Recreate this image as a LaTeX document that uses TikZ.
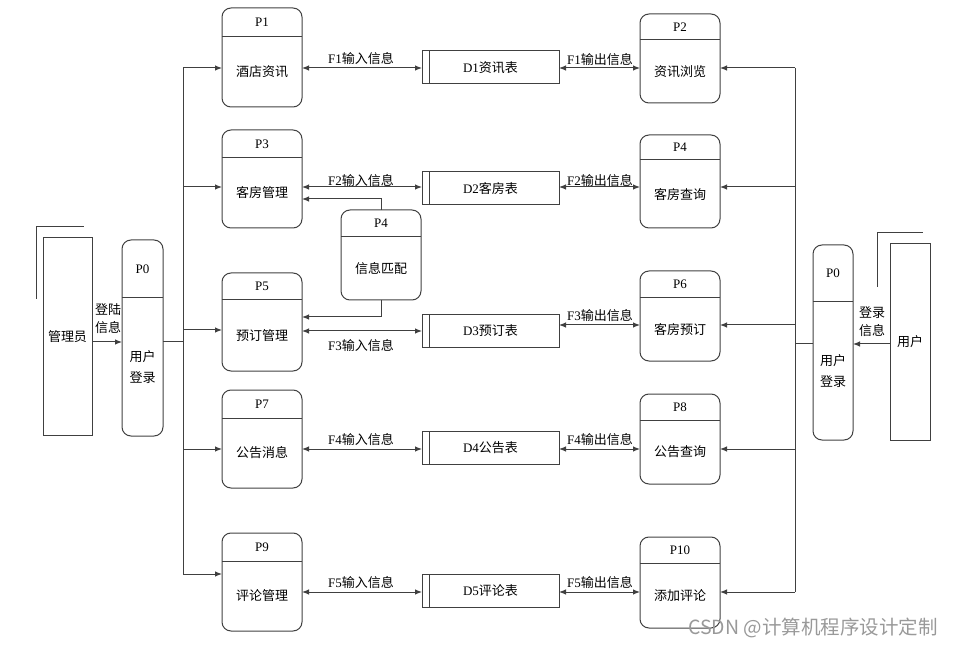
\documentclass[tikz,border=0pt]{standalone}
\usepackage{fontspec}
\setmainfont{Liberation Serif}
\newfontfamily\cjk{Noto Sans CJK SC}
\newcommand{\zh}[1]{{\cjk #1}}
\usetikzlibrary{arrows.meta}

\tikzset{
  line/.style={draw=black!75, line width=1pt},
  arr/.style={line, -{Latex[length=7pt,width=5.5pt]}},
  darr/.style={line, {Latex[length=7pt,width=5.5pt]}-{Latex[length=7pt,width=5.5pt]}},
  procbox/.style={line, rounded corners=9pt, inner sep=0pt, outer sep=0pt},
  storebox/.style={line, minimum width=137pt, minimum height=33pt, inner sep=0pt, outer sep=0pt,
    font=\fontsize{13}{17}\selectfont},
  entity/.style={line, inner sep=0pt, outer sep=0pt, font=\fontsize{13}{17}\selectfont},
  txt/.style={inner sep=1pt, font=\fontsize{13}{17}\selectfont, align=center},
}

% process box: name, x, width, top, header, bottom, id, text
\newcommand{\proc}[8]{%
  \node[procbox, minimum width=#3, minimum height=#6-#4] (#1) at (#2,{(#4+#6)/2}) {};
  \draw[line] (#1.west |- 0,#5) -- (#1.east |- 0,#5);
  \node[txt] (#1-id) at (#2,{(#4+#5)/2}) {#7};
  \node[txt] (#1-text) at (#2,{(#5+#6)/2}) {#8};
}

\begin{document}
\begin{tikzpicture}[x=1pt, y=-1pt]
\useasboundingbox (0,0) rectangle (954,647);

% external entities
\node[entity, minimum width=49, minimum height=197] (admin) at (67.5,336.5) {\zh{管理员}};
\draw[line] (36,299) -- (36,227) -- (84,227);
\node[entity, minimum width=40, minimum height=196] (user) at (910,342) {\zh{用户}};
\draw[line] (877,287) -- (877,233) -- (923,233);

% processes
\proc{p0l}{142.5}{41}{240}{298}{436}{P0}{\zh{用户}\\[4pt]\zh{登录}}
\proc{p0r}{833}{40}{245}{302}{440}{P0}{\zh{用户}\\[4pt]\zh{登录}}
\proc{p1}{262}{80}{8}{37}{107}{P1}{\zh{酒店资讯}}
\proc{p2}{680}{80}{14}{40}{103}{P2}{\zh{资讯浏览}}
\proc{p3}{262}{80}{130}{158}{228}{P3}{\zh{客房管理}}
\proc{p4}{680}{80}{135}{160}{228}{P4}{\zh{客房查询}}
\proc{match}{381}{80}{210}{237}{300}{P4}{\zh{信息匹配}}
\proc{p5}{262}{80}{273}{300}{371}{P5}{\zh{预订管理}}
\proc{p6}{680}{80}{271}{298}{361}{P6}{\zh{客房预订}}
\proc{p7}{262}{80}{390}{418}{488}{P7}{\zh{公告消息}}
\proc{p8}{680}{80}{394}{420}{484}{P8}{\zh{公告查询}}
\proc{p9}{262}{80}{533}{561}{631}{P9}{\zh{评论管理}}
\proc{p10}{680}{80}{537}{563}{628}{P10}{\zh{添加评论}}

% data stores
\node[storebox] (d1) at (490.5,67.5) {D1\zh{资讯表}};
\node[storebox] (d2) at (490.5,188) {D2\zh{客房表}};
\node[storebox] (d3) at (490.5,331) {D3\zh{预订表}};
\node[storebox] (d4) at (490.5,448) {D4\zh{公告表}};
\node[storebox] (d5) at (490.5,591) {D5\zh{评论表}};
\foreach \d in {d1,d2,d3,d4,d5}
  \draw[line] ([xshift=7pt]\d.north west) -- ([xshift=7pt]\d.south west);

% login
\draw[arr] (admin.east |- 0,342) -- (p0l.west |- 0,342);
\node[txt] (admin-lbl) at (108,319) {\zh{登陆}\\[1pt]\zh{信息}};
\draw[arr] (user.west |- 0,344) -- (p0r.east |- 0,344);
\node[txt] (user-lbl) at (872,322) {\zh{登录}\\[1pt]\zh{信息}};

% buses
\coordinate (lbus) at (183,342);
\draw[line] (p0l.east |- lbus) -- (lbus);
\draw[line] (lbus |- 0,68) -- (lbus |- 0,574);
\foreach \p/\y in {p1/68,p3/187,p5/330,p7/449,p9/574}
  \draw[arr] (lbus |- 0,\y) -- (\p.west |- 0,\y);
\coordinate (rbus) at (795,344);
\draw[line] (p0r.west |- rbus) -- (rbus);
\draw[line] (rbus |- 0,68) -- (rbus |- 0,592);
\foreach \p/\y in {p2/68,p4/187,p6/325,p8/449,p10/592}
  \draw[arr] (rbus |- 0,\y) -- (\p.east |- 0,\y);

% data flows
\draw[darr] (p1.east |- 0,68) -- (d1.west |- 0,68);
\node[txt] (f1in) at (361,59) {F1\zh{输入信息}};
\draw[darr] (d1.east |- 0,68) -- (p2.west |- 0,68);
\node[txt] (f1out) at (600,60) {F1\zh{输出信息}};
\draw[darr] (p3.east |- 0,187) -- (d2.west |- 0,187);
\node[txt] (f2in) at (361,181) {F2\zh{输入信息}};
\draw[darr] (d2.east |- 0,187) -- (p4.west |- 0,187);
\node[txt] (f2out) at (600,181) {F2\zh{输出信息}};
\draw[darr] (p5.east |- 0,331) -- (d3.west |- 0,331);
\node[txt] (f3in) at (361,346) {F3\zh{输入信息}};
\draw[darr] (d3.east |- 0,325) -- (p6.west |- 0,325);
\node[txt] (f3out) at (600,316) {F3\zh{输出信息}};
\draw[darr] (p7.east |- 0,449) -- (d4.west |- 0,449);
\node[txt] (f4in) at (361,440) {F4\zh{输入信息}};
\draw[darr] (d4.east |- 0,449) -- (p8.west |- 0,449);
\node[txt] (f4out) at (600,440) {F4\zh{输出信息}};
\draw[darr] (p9.east |- 0,592) -- (d5.west |- 0,592);
\node[txt] (f5in) at (361,583) {F5\zh{输入信息}};
\draw[darr] (d5.east |- 0,592) -- (p10.west |- 0,592);
\node[txt] (f5out) at (600,583) {F5\zh{输出信息}};

% matching
\draw[arr] (match.north) |- (p3.east |- 0,199);
\draw[arr] (match.south) |- (p5.east |- 0,317);

% watermark
\node[text=black!40, font=\cjk\fontsize{19.5}{22}\selectfont] (mark) at (813,628) {CSDN @计算机程序设计定制};
\end{tikzpicture}
\end{document}
